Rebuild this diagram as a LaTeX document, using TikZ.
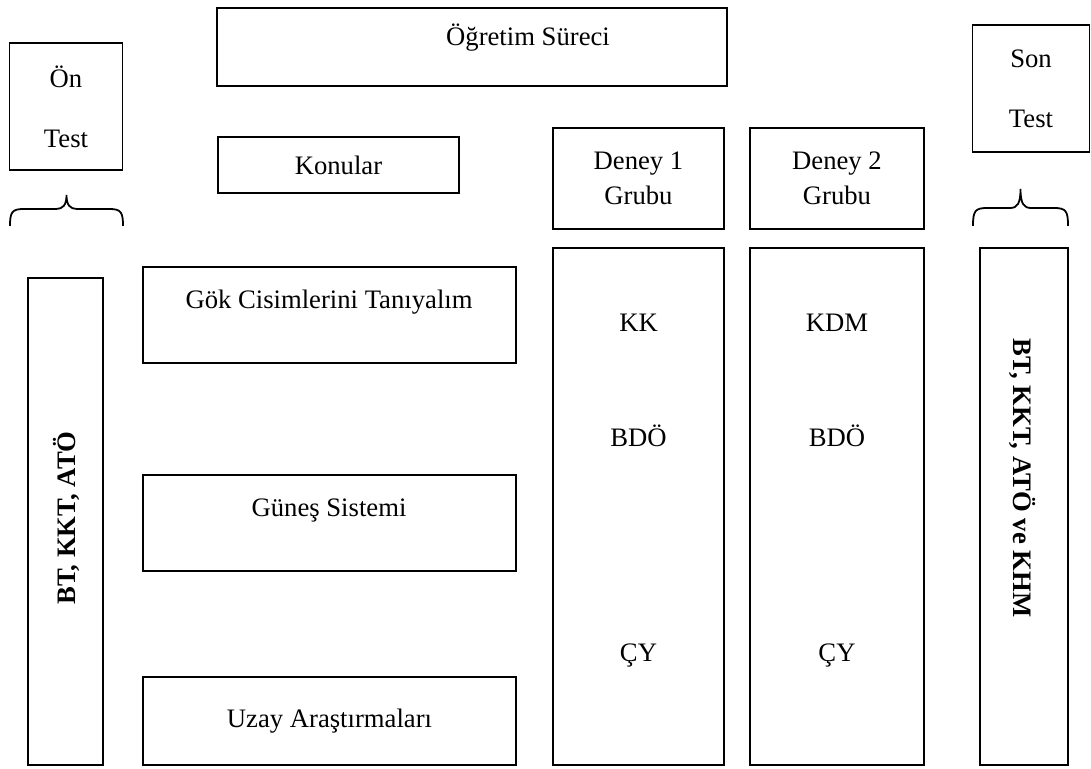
\documentclass[tikz,border=0pt]{standalone}
\usepackage{fontspec}
\setmainfont{Liberation Serif}
\usetikzlibrary{positioning,calc}
\newcommand{\px}{0.45pt}

\begin{document}
\begin{tikzpicture}[x=0.45pt,y=-0.45pt,
  box/.style={draw,line width=0.6pt,inner sep=0pt,align=center,font=\fontsize{12}{14}\selectfont},
  label/.style={inner sep=0pt,align=center,font=\fontsize{12}{14}\selectfont},
  tall/.style={inner sep=0pt,font=\fontsize{12}{14}\selectfont\bfseries},
  brc/.style={line width=0.8pt}
]
  \useasboundingbox (0,0) rectangle (1091,769);
  % top row
  \node[box,minimum width=113*\px,minimum height=127*\px] (on) at (66,106.5) {Ön\\[13pt]Test};
  \node[box,minimum width=510*\px,minimum height=78*\px] (surec) at (472,47) {};
  \node[label,below=16*\px of surec.north,xshift=56*\px] (surecT) {Öğretim Süreci};
  \node[box,minimum width=117*\px,minimum height=127*\px] (son) at (1031,88.5) {Son\\[13pt]Test};
  \node[box,minimum width=241*\px,minimum height=56*\px] (konu) at (338.5,165) {Konular};
  \node[box,minimum width=171*\px,minimum height=101*\px] (d1) at (638.5,178.5) {Deney 1\\[2pt]Grubu};
  \node[box,minimum width=174*\px,minimum height=101*\px] (d2) at (837,178.5) {Deney 2\\[2pt]Grubu};
  % braces
  \draw[brc] (10,226) .. controls (10,212) and (12,209) .. (24,209) -- (56,209)
    .. controls (63,209) and (66.5,205) .. (66.5,195) .. controls (66.5,205) and (70,209) .. (77,209)
    -- (109,209) .. controls (121,209) and (123,212) .. (123,226);
  \draw[brc] (973,226) .. controls (973,211) and (975,208) .. (987,208) -- (1010,208)
    .. controls (1017,208) and (1020.5,204) .. (1020.5,189) .. controls (1020.5,204) and (1024,208) .. (1031,208)
    -- (1054,208) .. controls (1066,208) and (1068,211) .. (1068,226);
  % left test box
  \node[box,minimum width=75*\px,minimum height=487*\px] (onK) at (65.5,521.5) {};
  \node[tall,rotate=90] (onKT) at (66,518) {BT, KKT, ATÖ};
  % topics
  \node[box,minimum width=373*\px,minimum height=96*\px] (gok) at (329.5,315) {};
  \node[label] (gokT) at (329,302) {Gök Cisimlerini Tanıyalım};
  \node[box,minimum width=373*\px,minimum height=96*\px] (gunes) at (329.5,523) {};
  \node[label] (gunesT) at (329,511) {Güneş Sistemi};
  \node[box,minimum width=373*\px,minimum height=88*\px] (uzay) at (329.5,721) {Uzay Araştırmaları};
  % group columns
  \node[box,minimum width=171*\px,minimum height=517*\px] (g1) at (638.5,506.5) {};
  \node[box,minimum width=174*\px,minimum height=517*\px] (g2) at (837,506.5) {};
  \node[label] (g1a) at (638.5,323) {KK};
  \node[label] (g1b) at (638.5,436) {BDÖ};
  \node[label] (g1c) at (638.5,656) {ÇY};
  \node[label] (g2a) at (837,323) {KDM};
  \node[label] (g2b) at (837,436) {BDÖ};
  \node[label] (g2c) at (837,656) {ÇY};
  % right test box
  \node[box,minimum width=88*\px,minimum height=517*\px] (sonK) at (1024,506.5) {};
  \node[tall,rotate=-90] (sonKT) at (1023,478) {BT, KKT, ATÖ ve KHM};
\end{tikzpicture}
\end{document}
